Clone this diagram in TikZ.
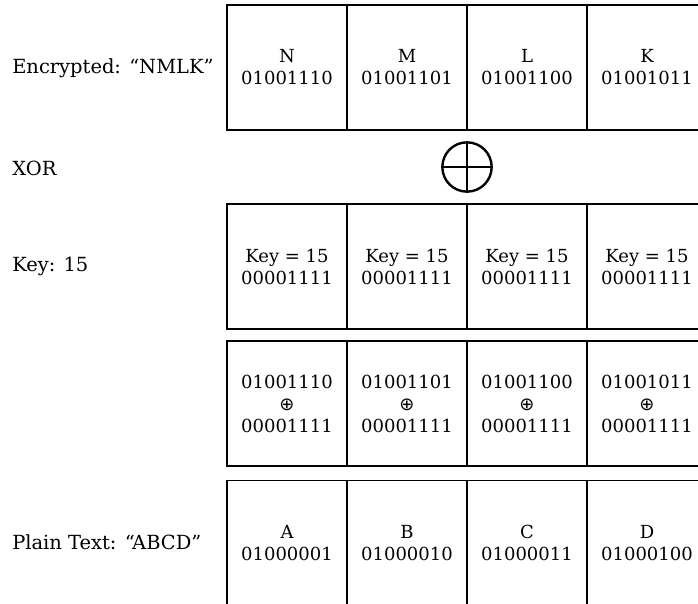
\documentclass[tikz,border=0pt]{standalone}
\usepackage{fontspec}
\setmainfont{DejaVu Serif}
\newfontfamily\symfont{DejaVu Sans}
\usepackage{xcolor}

\newcommand{\xorsign}{{\symfont ⊕}}

\begin{document}
\begin{tikzpicture}[x=0.75pt,y=-0.75pt,
	cell/.style={draw, line width=0.9pt, minimum width=90pt, minimum height=93.75pt,
		inner sep=0pt, align=center, font=\fontsize{13.5}{16.5}\selectfont},
	lbl/.style={anchor=west, inner sep=0pt, font=\fontsize{14.6}{17}\selectfont}]
	
	\useasboundingbox (0,0) rectangle (698,603);
	\clip (0,0) rectangle (698,603);
	
	% row labels
	\node[lbl] (enc) at (12,68) {Encrypted: “NMLK”};
	\node[lbl] (xor) at (12,168) {XOR};
	\node[lbl] (key) at (12,266) {Key: 15};
	\node[lbl] (plain) at (12,542) {Plain Text: “ABCD”};
	
	% encrypted bytes
	\node[cell] (n) at (287,67.5) {N\\01001110};
	\node[cell] (m) at (407,67.5) {M\\01001101};
	\node[cell] (l) at (527,67.5) {L\\01001100};
	\node[cell] (k) at (647,67.5) {K\\01001011};
	
	% xor sign
	\node[circle, draw, line width=1.8pt, minimum size=37pt, inner sep=0pt] (op) at (467,167) {};
	\draw[line width=1.8pt] (op.north) -- (op.south);
	\draw[line width=1.8pt] (op.west) -- (op.east);
	
	% key bytes
	\node[cell] (k1) at (287,266.5) {Key = 15\\00001111};
	\node[cell] (k2) at (407,266.5) {Key = 15\\00001111};
	\node[cell] (k3) at (527,266.5) {Key = 15\\00001111};
	\node[cell] (k4) at (647,266.5) {Key = 15\\00001111};
	
	% byte by byte xor
	\node[cell] (x1) at (287,403.5) {01001110\\\xorsign\\00001111};
	\node[cell] (x2) at (407,403.5) {01001101\\\xorsign\\00001111};
	\node[cell] (x3) at (527,403.5) {01001100\\\xorsign\\00001111};
	\node[cell] (x4) at (647,403.5) {01001011\\\xorsign\\00001111};
	
	% decrypted bytes
	\node[cell] (a) at (287,543) {A\\01000001};
	\node[cell] (b) at (407,543) {B\\01000010};
	\node[cell] (c) at (527,543) {C\\01000011};
	\node[cell] (d) at (647,543) {D\\01000100};
	
\end{tikzpicture}
\end{document}
